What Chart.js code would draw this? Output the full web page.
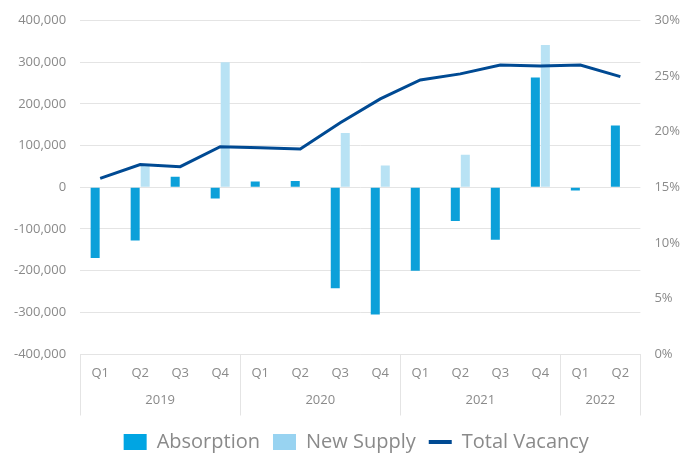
<!DOCTYPE html>
<html>
<head>
<meta charset="utf-8">
<script src="https://cdn.jsdelivr.net/npm/chart.js@4/dist/chart.umd.min.js"></script>
<style>
  html, body { margin: 0; padding: 0; background: #fff; }
  #wrap { width: 694px; height: 453px; }
</style>
</head>
<body>
<div id="wrap"><canvas id="myChart" width="694" height="453"></canvas></div>
<script>
const quarters = ['Q1', 'Q2', 'Q3', 'Q4', 'Q1', 'Q2', 'Q3', 'Q4', 'Q1', 'Q2', 'Q3', 'Q4', 'Q1', 'Q2'];
const years = ['2019', '2020', '2021', '2022'];
const quartersPerYear = [4, 4, 4, 2];

const absorption = [-170000, -128000, 25000, -27000, 13500, 15000, -242000, -305000, -200000, -81000, -126000, 263000, -8000, 148000];
const newSupply = [null, 52000, null, 300000, null, null, 130000, 52000, null, 78000, null, 341000, null, null];
const totalVacancy = [15.8, 17.05, 16.85, 18.65, 18.55, 18.45, 20.8, 22.95, 24.65, 25.2, 26.0, 25.9, 26.0, 24.95];

const leftTicks = { min: -400000, max: 400000, step: 100000 };
const rightTicks = { min: 0, max: 30, step: 5 };

// year groups on the quarter axis: centres and edges (in category index units)
const yearCenters = [];
const yearEdges = [0];
let start = 0;
quartersPerYear.forEach(n => {
    yearCenters.push(start + n / 2 - 0.5);
    start += n;
    yearEdges.push(start);
});

const textGrey = '#8a8a8a';
const gridGrey = '#e4e4e4';
const legendColors = ['#00a5e3', '#98d3f1', '#004a93'];
const rowHeight = 27;
const tickPad = 5.5;
const tickFont = { family: 'Open Sans', size: 13, lineHeight: rowHeight / 13 };
const valueFont = { family: 'Open Sans', size: 13, lineHeight: 1 };

// second row of the x axis: year names and the group separators
const yearRow = {
    id: 'yearRow',
    beforeDraw(chart) {
        // legend sits roughly centred under the plot area, not the whole canvas
        const lg = chart.legend;
        const shift = (chart.chartArea.left + chart.chartArea.right) / 2 - (lg.left + lg.right) / 2 - 4;
        lg.left += shift;
        lg.right += shift;
    },
    afterDraw(chart) {
        const x = chart.scales.x;
        const ctx = chart.ctx;
        ctx.save();
        ctx.strokeStyle = gridGrey;
        ctx.lineWidth = 1;
        yearEdges.forEach(e => {
            const px = Math.round(x.getPixelForValue(e - 0.5)) + 0.5;
            ctx.beginPath();
            ctx.moveTo(px, x.top);
            ctx.lineTo(px, x.top + tickPad + rowHeight * 2 + 2);
            ctx.stroke();
        });
        ctx.fillStyle = textGrey;
        ctx.font = tickFont.size + 'px "Open Sans"';
        ctx.textAlign = 'center';
        ctx.textBaseline = 'middle';
        yearCenters.forEach((c, i) => {
            ctx.fillText(years[i], x.getPixelForValue(c), x.top + tickPad + rowHeight * 1.5);
        });
        ctx.restore();
    }
};

let chartContext = document.getElementById('myChart').getContext('2d');
let myChart = new Chart(chartContext, {
    type: 'bar',
    data: {
        labels: quarters.map(q => [q, '']),
        datasets: [{
            type: 'line',
            label: 'Total Vacancy',
            data: totalVacancy,
            borderColor: '#004a93',
            backgroundColor: '#004a93',
            borderWidth: 3,
            pointRadius: 0,
            tension: 0,
            yAxisID: 'y1'
        }, {
            label: 'Absorption',
            data: absorption,
            backgroundColor: '#0ca0d9',
            categoryPercentage: 0.5,
            barPercentage: 0.9,
            yAxisID: 'y'
        }, {
            label: 'New Supply',
            data: newSupply,
            backgroundColor: '#b8e2f4',
            categoryPercentage: 0.5,
            barPercentage: 0.9,
            yAxisID: 'y'
        }]
    },
    plugins: [yearRow],
    options: {
        responsive: false,
        animation: false,
        layout: { padding: { left: 0, right: 0, top: -2, bottom: -9 } },
        plugins: {
            tooltip: { enabled: false },
            legend: {
                position: 'bottom',
                labels: {
                    usePointStyle: true,
                    pointStyleWidth: 23,
                    boxHeight: 16,
                    padding: 13,
                    color: textGrey,
                    font: { family: 'Open Sans', size: 20 },
                    sort: (a, b) => ((a.datasetIndex === 0) - (b.datasetIndex === 0)) || (a.datasetIndex - b.datasetIndex),
                    generateLabels: (chart) => {
                        const items = Chart.defaults.plugins.legend.labels.generateLabels(chart);
                        items.forEach(item => {
                            const isLine = item.datasetIndex === 0;
                            const c = isLine ? legendColors[2] : legendColors[item.datasetIndex - 1];
                            item.pointStyle = isLine ? 'line' : 'rect';
                            item.fillStyle = c;
                            item.strokeStyle = c;
                            item.lineWidth = isLine ? 4 : 0;
                        });
                        return items;
                    }
                }
            }
        },
        scales: {
            x: {
                type: 'category',
                offset: true,
                border: { display: true, color: gridGrey },
                grid: { display: false, drawTicks: false },
                ticks: {
                    color: textGrey,
                    font: tickFont,
                    padding: tickPad,
                    maxRotation: 0,
                    autoSkip: false
                }
            },
            y: {
                position: 'left',
                min: leftTicks.min,
                max: leftTicks.max,
                border: { display: false },
                grid: { color: gridGrey, drawTicks: false },
                ticks: {
                    stepSize: leftTicks.step,
                    color: textGrey,
                    font: valueFont,
                    padding: 14,
                    callback: (v) => v.toLocaleString('en-US')
                }
            },
            y1: {
                position: 'right',
                min: rightTicks.min,
                max: rightTicks.max,
                border: { display: false },
                grid: { drawOnChartArea: false, drawTicks: false },
                ticks: {
                    stepSize: rightTicks.step,
                    color: textGrey,
                    font: valueFont,
                    padding: 14,
                    callback: (v) => v + '%'
                }
            }
        }
    }
});
</script>
</body>
</html>
